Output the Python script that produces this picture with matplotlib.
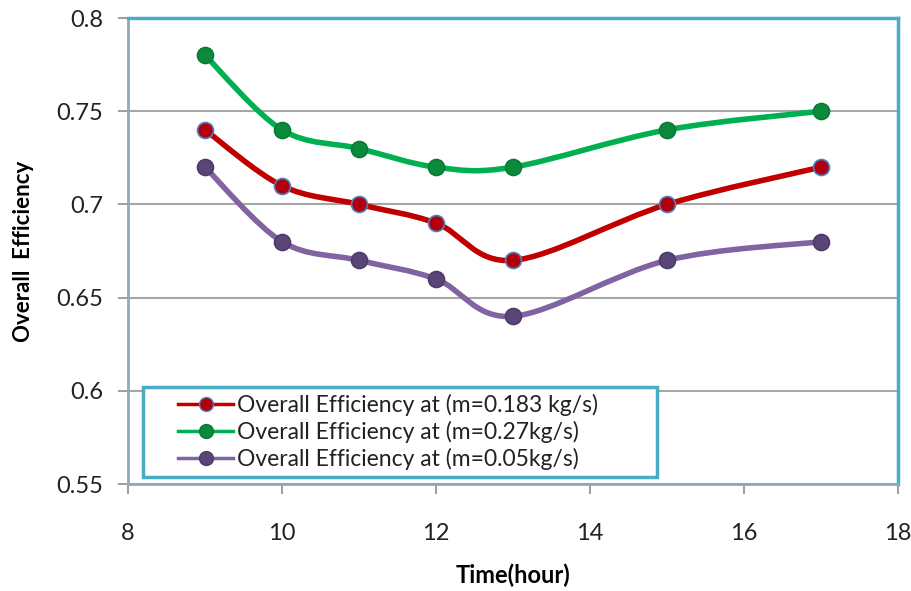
import numpy as np
import matplotlib
matplotlib.use('Agg')
import matplotlib.pyplot as plt
from matplotlib.path import Path
from matplotlib.patches import PathPatch, Rectangle
from matplotlib.lines import Line2D

plt.rcParams['font.family'] = ['Lato', 'DejaVu Sans']

# data
hours = [9, 10, 11, 12, 13, 15, 17]
eff_0183 = [0.74, 0.71, 0.70, 0.69, 0.67, 0.70, 0.72]
eff_027 = [0.78, 0.74, 0.73, 0.72, 0.72, 0.74, 0.75]
eff_005 = [0.72, 0.68, 0.67, 0.66, 0.64, 0.67, 0.68]

labels = ['Overall Efficiency at (m=0.183 kg/s)',
          'Overall Efficiency at (m=0.27kg/s)',
          'Overall Efficiency at (m=0.05kg/s)']

TEAL = '#4bacc6'
GRID = '#a6a6a6'


def smooth_path(x, y):
    # excel style smoothed line: cubic bezier segments, control points from neighbours
    x = np.asarray(x, float)
    y = np.asarray(y, float)
    n = len(x)
    verts = [(x[0], y[0])]
    codes = [Path.MOVETO]
    for i in range(n - 1):
        i0 = max(i - 1, 0)
        i3 = min(i + 2, n - 1)
        c1 = (x[i] + (x[i + 1] - x[i0]) / 6.0, y[i] + (y[i + 1] - y[i0]) / 6.0)
        c2 = (x[i + 1] - (x[i3] - x[i]) / 6.0, y[i + 1] - (y[i3] - y[i]) / 6.0)
        verts += [c1, c2, (x[i + 1], y[i + 1])]
        codes += [Path.CURVE4] * 3
    return Path(verts, codes)


fig = plt.figure(figsize=(9.12, 5.91), dpi=100)
ax = fig.add_axes([0.1404, 0.181, 0.8442, 0.7885])

series = [
    (eff_0183, '#c00000', '#b00010', '#4f81bd'),
    (eff_027, '#00b050', '#0a8a3a', '#0a7a34'),
    (eff_005, '#8064a2', '#5a4578', '#4e3b6a'),
]

handles = []
for (vals, lc, mfc, mec), lab in zip(series, labels):
    ax.add_patch(PathPatch(smooth_path(hours, vals), facecolor='none',
                           edgecolor=lc, lw=4.0, capstyle='round',
                           joinstyle='round', zorder=3))
    ax.plot(hours, vals, linestyle='none', marker='o', markersize=11.5,
            markerfacecolor=mfc, markeredgecolor=mec, markeredgewidth=1.2,
            zorder=4)
    handles.append(Line2D([], [], color=lc, lw=2.5, marker='o', markersize=10,
                          markerfacecolor=mfc, markeredgecolor=mec,
                          markeredgewidth=1.0))

ax.set_xlim(8, 18)
ax.set_ylim(0.55, 0.8)
ax.set_xticks([8, 10, 12, 14, 16, 18])
ax.set_yticks([0.55, 0.6, 0.65, 0.7, 0.75, 0.8])
ax.set_yticklabels(['0.55', '0.6', '0.65', '0.7', '0.75', '0.8'])
ax.yaxis.grid(True, color=GRID, lw=1.5)
ax.set_axisbelow(True)

for s in ['top', 'right']:
    ax.spines[s].set_color(TEAL)
    ax.spines[s].set_linewidth(2.5)
for s in ['left', 'bottom']:
    ax.spines[s].set_color('#8ea9b8')
    ax.spines[s].set_linewidth(2.0)

ax.tick_params(axis='both', direction='out', length=7, width=1.2,
               color='#8c8c8c', labelsize=17, labelcolor='#222222')
ax.tick_params(axis='y', pad=11)
ax.tick_params(axis='x', pad=21)

ax.set_xlabel('Time(hour)', fontsize=17, fontweight='bold', labelpad=14)
ax.set_ylabel('Overall  Efficiency', fontsize=16, fontweight='bold', labelpad=16)

# legend box drawn separately so the entries can sit inset from its left edge
ax.add_patch(Rectangle((0.0195, 0.015), 0.6675, 0.193, transform=ax.transAxes,
                       facecolor='white', edgecolor=TEAL, lw=2.5, zorder=5))
leg = ax.legend(handles, labels, loc='center left',
                bbox_to_anchor=(0.065, 0.111), frameon=False,
                fontsize=16.5, handlelength=2.4, handletextpad=0.17,
                labelspacing=0.22, borderpad=0, borderaxespad=0)
leg.set_zorder(6)
for t in leg.get_texts():
    t.set_color('#222222')

fig.savefig('out.png', dpi=100)
